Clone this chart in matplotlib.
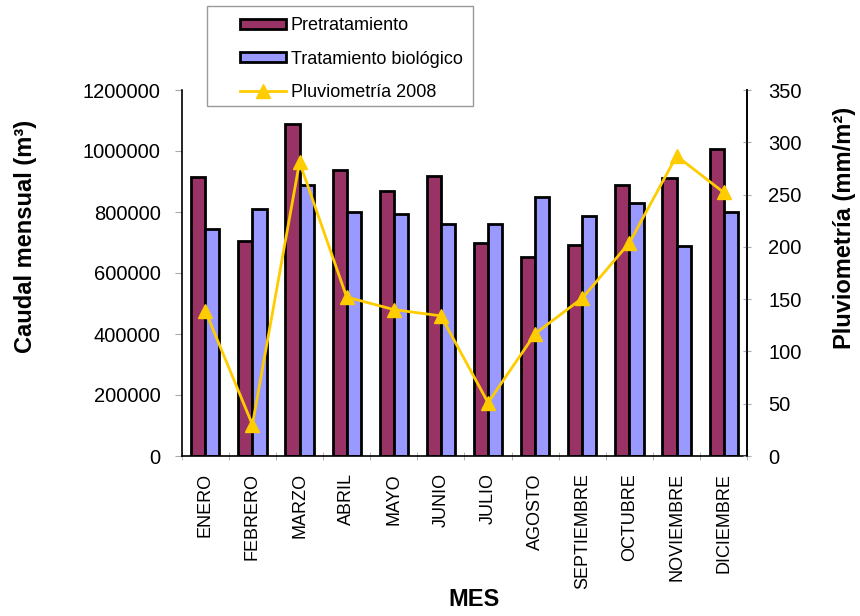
import matplotlib
matplotlib.use("Agg")
import matplotlib.pyplot as plt
import numpy as np
from matplotlib.lines import Line2D
from matplotlib.patches import Patch, Rectangle

plt.rcParams['font.family'] = ['Liberation Sans', 'DejaVu Sans']

meses = ["ENERO", "FEBRERO", "MARZO", "ABRIL", "MAYO", "JUNIO", "JULIO",
         "AGOSTO", "SEPTIEMBRE", "OCTUBRE", "NOVIEMBRE", "DICIEMBRE"]
pretratamiento = [915000, 704000, 1088000, 937000, 870000, 919000,
                  700000, 652000, 692000, 888000, 913000, 1006000]
tratamiento_biologico = [744000, 811000, 888000, 799000, 793000, 761000,
                         760000, 849000, 786000, 829000, 690000, 799000]
pluviometria = [139, 30, 281, 152, 140, 134, 51, 117, 151, 204, 287, 252]

c_pre = "#993366"
c_bio = "#9999FF"
c_pluv = "#FFCC00"

W, H = 860, 616
fig = plt.figure(figsize=(W / 100, H / 100), dpi=100)
ax = fig.add_axes([181.7 / W, 1 - 456 / H, (747.3 - 181.7) / W, 366 / H])

x = np.arange(len(meses))
w = 0.3
ax.bar(x - w / 2, pretratamiento, w, color=c_pre, edgecolor="black", linewidth=2, zorder=2)
ax.bar(x + w / 2, tratamiento_biologico, w, color=c_bio, edgecolor="black", linewidth=2, zorder=2)

ax.set_xlim(-0.5, len(meses) - 0.5)
ax.set_ylim(0, 1200000)
ax.set_yticks(np.arange(0, 1200001, 200000))
ax.set_yticklabels([str(v) for v in range(0, 1200001, 200000)], fontsize=14.5)
ax.set_xticks(x)
ax.set_xticklabels(meses, rotation=90, fontsize=13, va="top")
ax.set_xticks(np.arange(-0.5, len(meses), 1), minor=True)
ax.tick_params(axis="x", which="major", length=0, pad=12.5)
ax.tick_params(axis="x", which="minor", length=6, color="#aaaaaa", direction="inout")
ax.tick_params(axis="y", length=5, color="#aaaaaa", pad=10)
for s in ["left", "bottom", "right"]:
    ax.spines[s].set_linewidth(1.2)
ax.spines["top"].set_visible(False)

ax2 = ax.twinx()
ax2.plot(x, pluviometria, color=c_pluv, linewidth=2, marker="^", markersize=10, zorder=3)
ax2.set_ylim(0, 350)
ax2.set_yticks(np.arange(0, 351, 50))
ax2.set_yticklabels([str(v) for v in range(0, 351, 50)], fontsize=14.5)
ax2.tick_params(axis="y", length=6, color="#aaaaaa", direction="inout", pad=12)
ax2.spines["top"].set_visible(False)
ax2.spines["right"].set_linewidth(1.2)
ax2.spines["left"].set_visible(False)
ax2.spines["bottom"].set_visible(False)

fig.text(26 / W, 1 - 236 / H, "Caudal mensual (m³)", fontsize=17, fontweight="bold",
         rotation=90, ha="center", va="center")
fig.text(845 / W, 1 - 228 / H, "Pluviometría (mm/m²)", fontsize=17, fontweight="bold",
         rotation=90, ha="center", va="center")
fig.text(474 / W, 1 - 600 / H, "MES", fontsize=17, fontweight="bold", ha="center", va="center")

# legend frame drawn separately so the entries can sit with a wide left margin
fig.patches.append(Rectangle((206.7 / W, 1 - 106 / H), (472.7 - 206.7) / W, 100 / H,
                             transform=fig.transFigure, facecolor="white",
                             edgecolor="#999999", linewidth=1, zorder=5))
handles = [
    Patch(facecolor=c_pre, edgecolor="black", linewidth=2),
    Patch(facecolor=c_bio, edgecolor="black", linewidth=2),
    Line2D([0], [0], color=c_pluv, linewidth=2, marker="^", markersize=10),
]
labels = ["Pretratamiento", "Tratamiento biológico", "Pluviometría 2008"]
leg = fig.legend(handles, labels, loc="upper left",
                 bbox_to_anchor=(235 / W, 1 - 12 / H), fontsize=13,
                 frameon=False, handlelength=2.5, handleheight=0.5,
                 labelspacing=0.9, borderpad=0.3, handletextpad=0.3,
                 borderaxespad=0)
leg.set_zorder(6)

fig.savefig("out.png", dpi=100)
